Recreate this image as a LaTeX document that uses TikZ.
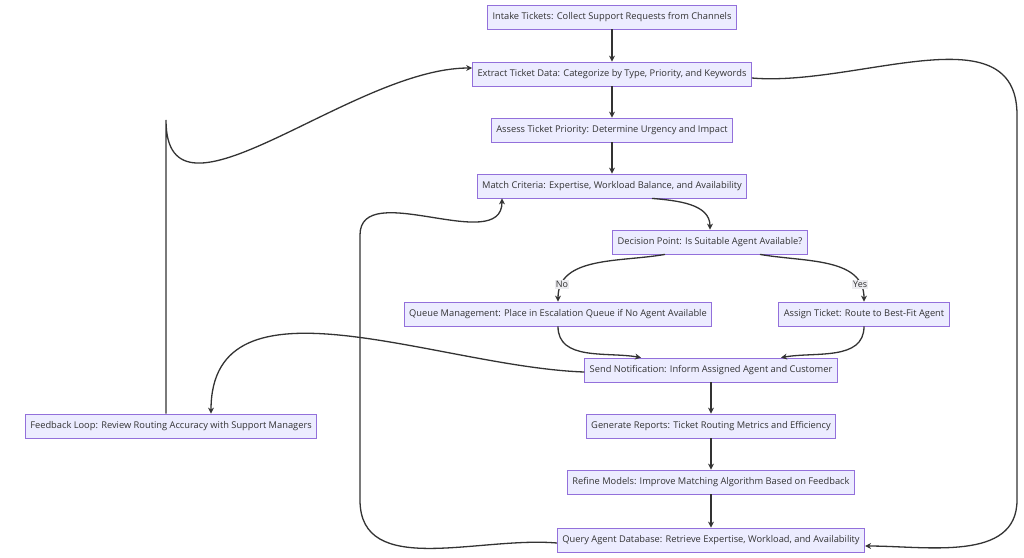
\documentclass[tikz,border=0pt]{standalone}
\usepackage{fontspec}
\setmainfont{Open Sans}
\usetikzlibrary{arrows.meta}
\definecolor{boxfill}{HTML}{ECECFF}
\definecolor{boxline}{HTML}{9370DB}
\definecolor{edge}{HTML}{333333}
\tikzset{
  stage/.style={draw=boxline,fill=boxfill,line width=0.8pt,font=\fontsize{9.3}{11}\selectfont,
    text=edge,minimum height=24pt,inner xsep=5pt},
  arr/.style={draw=edge,line width=1.3pt,-{Stealth[length=6pt,width=6pt]}},
  lbl/.style={fill=boxfill!60!gray!30,font=\fontsize{9}{10}\selectfont,text=edge,inner sep=1pt}
}
\begin{document}
\begin{tikzpicture}[x=1pt,y=-1pt]
\useasboundingbox (0,0) rectangle (1024,557);
\node[stage] (intake) at (612,17) {Intake Tickets: Collect Support Requests from Channels};
\node[stage] (extract) at (612,74) {Extract Ticket Data: Categorize by Type, Priority, and Keywords};
\node[stage] (assess) at (612,130) {Assess Ticket Priority: Determine Urgency and Impact};
\node[stage] (match) at (612,186) {Match Criteria: Expertise, Workload Balance, and Availability};
\node[stage] (decide) at (710,242) {Decision Point: Is Suitable Agent Available?};
\node[stage] (queue) at (558,314) {Queue Management: Place in Escalation Queue if No Agent Available};
\node[stage] (assign) at (864,314) {Assign Ticket: Route to Best-Fit Agent};
\node[stage] (notify) at (711,370) {Send Notification: Inform Assigned Agent and Customer};
\node[stage] (feedback) at (171,426) {Feedback Loop: Review Routing Accuracy with Support Managers};
\node[stage] (report) at (711,426) {Generate Reports: Ticket Routing Metrics and Efficiency};
\node[stage] (refine) at (711,482) {Refine Models: Improve Matching Algorithm Based on Feedback};
\node[stage] (query) at (711,540) {Query Agent Database: Retrieve Expertise, Workload, and Availability};
% corners of the loops
\coordinate (fbtop) at (166,120);
\coordinate (qleft) at (360,500);
\coordinate (qtop) at (360,235);
\coordinate (xright) at (1017,115);
\coordinate (xlow) at (1017,500);
\draw[arr] (intake) -- (extract);
\draw[arr] (extract) -- (assess);
\draw[arr] (assess) -- (match);
\draw[arr] ([xshift=40pt]match.south) to[out=-5,in=90] (decide.north);
\draw[arr] ([xshift=-45pt]decide.south) to[out=190,in=90] node[lbl,pos=0.85] {No} (queue.north);
\draw[arr] ([xshift=50pt]decide.south) to[out=-10,in=90] node[lbl,pos=0.85] {Yes} (assign.north);
\draw[arr] (queue.south) to[out=-90,in=170] ([xshift=-70pt]notify.north);
\draw[arr] (assign.south) to[out=-90,in=10] ([xshift=70pt]notify.north);
\draw[arr] ([yshift=-2pt]notify.west) to[out=178,in=90] ([xshift=40pt]feedback.north);
\draw[arr] (notify) -- (report);
\draw[arr] (report) -- (refine);
\draw[arr] (refine) -- (query);
\draw[arr] ([xshift=-5pt]feedback.north) -- (fbtop) to[out=-90,in=180] ([yshift=6pt]extract.west);
\draw[arr] ([yshift=-3pt]query.west) to[out=175,in=-90] (qleft) -- (qtop) to[out=90,in=-90] ([xshift=-110pt]match.south);
\draw[arr] ([yshift=-4pt]extract.east) to[out=-5,in=90] (xright) -- (xlow) to[out=-90,in=0] ([yshift=-6pt]query.east);
\end{tikzpicture}
\end{document}
